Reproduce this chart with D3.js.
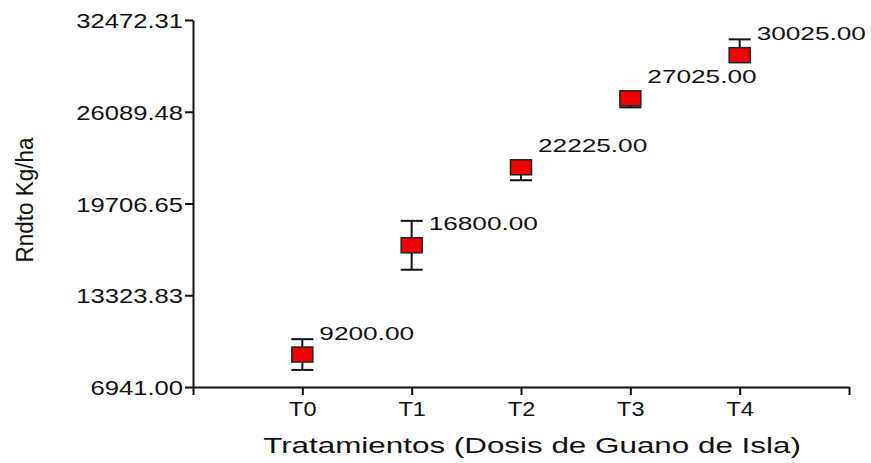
<!DOCTYPE html>
<html>
<head>
<meta charset="utf-8">
<script src="https://cdn.jsdelivr.net/npm/d3@7"></script>
<style>
  body { margin: 0; background: #fff; }
  text { font-family: Arial, "Liberation Sans", sans-serif; fill: #111; }
</style>
</head>
<body>
<script>
// Data
var treatments = ['T0', 'T1', 'T2', 'T3', 'T4'];
var means = [9200, 16800, 22225, 27025, 30025];
var errUp = [1070, 1700, 0, 0, 1100];
var errDown = [1070, 1700, 900, 630, 0];
var yTickValues = [6941.00, 13323.83, 19706.65, 26089.48, 32472.31];

var width = 871;
var height = 463;

var svg = d3.select('body').append('svg')
  .attr('width', width)
  .attr('height', height);

// scales
var x = d3.scaleLinear().domain([0, 6]).range([193, 849]);
var y = d3.scaleLinear().domain([6941.00, 32472.31]).range([387, 20]);

// x axis
var xAxis = svg.append('g')
  .attr('transform', 'translate(0,' + y(6941) + ')')
  .call(d3.axisBottom(x)
    .tickValues([0, 1, 2, 3, 4, 5, 6])
    .tickSize(8)
    .tickSizeOuter(0)
    .tickFormat(function(d) { return (d >= 1 && d <= 5) ? treatments[d - 1] : ''; }));
xAxis.select('.domain').attr('stroke', '#111').attr('stroke-width', 2);
xAxis.selectAll('.tick line').attr('stroke', '#111').attr('stroke-width', 2);
xAxis.selectAll('.tick text')
  .attr('x', null).attr('y', null).attr('dy', null)
  .attr('transform', 'translate(0,29) scale(1.12,1)')
  .style('font-size', '21px');

// y axis
var yAxis = svg.append('g')
  .attr('transform', 'translate(' + x(0) + ',0)')
  .call(d3.axisLeft(y)
    .tickValues(yTickValues)
    .tickSize(8)
    .tickSizeOuter(0)
    .tickFormat(function(d) { return d.toFixed(2); }));
yAxis.select('.domain').attr('stroke', '#111').attr('stroke-width', 2);
yAxis.selectAll('.tick line').attr('stroke', '#111').attr('stroke-width', 2);
yAxis.selectAll('.tick text')
  .attr('x', null).attr('dy', null)
  .attr('transform', 'translate(-10,7.5) scale(1.22,1)')
  .style('font-size', '21px');

// error bars
var capW = 22;
var pts = svg.append('g');
treatments.forEach(function(t, i) {
  var cx = x(i + 1);
  var yTop = y(means[i] + errUp[i]);
  var yBot = y(means[i] - errDown[i]);
  pts.append('line')
    .attr('x1', cx).attr('x2', cx)
    .attr('y1', yTop).attr('y2', yBot)
    .attr('stroke', '#111').attr('stroke-width', 2);
  if (errUp[i] > 0) {
    pts.append('line')
      .attr('x1', cx - capW / 2).attr('x2', cx + capW / 2)
      .attr('y1', yTop).attr('y2', yTop)
      .attr('stroke', '#111').attr('stroke-width', 2);
  }
  if (errDown[i] > 0) {
    pts.append('line')
      .attr('x1', cx - capW / 2).attr('x2', cx + capW / 2)
      .attr('y1', yBot).attr('y2', yBot)
      .attr('stroke', '#111').attr('stroke-width', 2);
  }
});

// squares
var sqW = 21, sqH = 15;
pts.selectAll('rect.mean')
  .data(means)
  .enter().append('rect')
  .attr('class', 'mean')
  .attr('x', function(d, i) { return x(i + 1) - sqW / 2; })
  .attr('y', function(d) { return y(d) - sqH / 2; })
  .attr('width', sqW)
  .attr('height', sqH)
  .attr('fill', '#f00000')
  .attr('stroke', '#222')
  .attr('stroke-width', 1.5);

// value labels
pts.selectAll('text.val')
  .data(means)
  .enter().append('text')
  .attr('class', 'val')
  .attr('transform', function(d, i) {
    return 'translate(' + (x(i + 1) + 17) + ',' + (y(d) - 15) + ') scale(1.38,1)';
  })
  .style('font-size', '19px')
  .text(function(d) { return d.toFixed(2); });

// axis titles
svg.append('text')
  .attr('transform', 'translate(532,453) scale(1.46,1)')
  .attr('text-anchor', 'middle')
  .style('font-size', '21.5px')
  .text('Tratamientos (Dosis de Guano de Isla)');

svg.append('text')
  .attr('transform', 'translate(33,200) rotate(-90)')
  .attr('text-anchor', 'middle')
  .style('font-size', '23px')
  .attr('textLength', 125)
  .attr('lengthAdjust', 'spacingAndGlyphs')
  .text('Rndto Kg/ha');
</script>
</body>
</html>
